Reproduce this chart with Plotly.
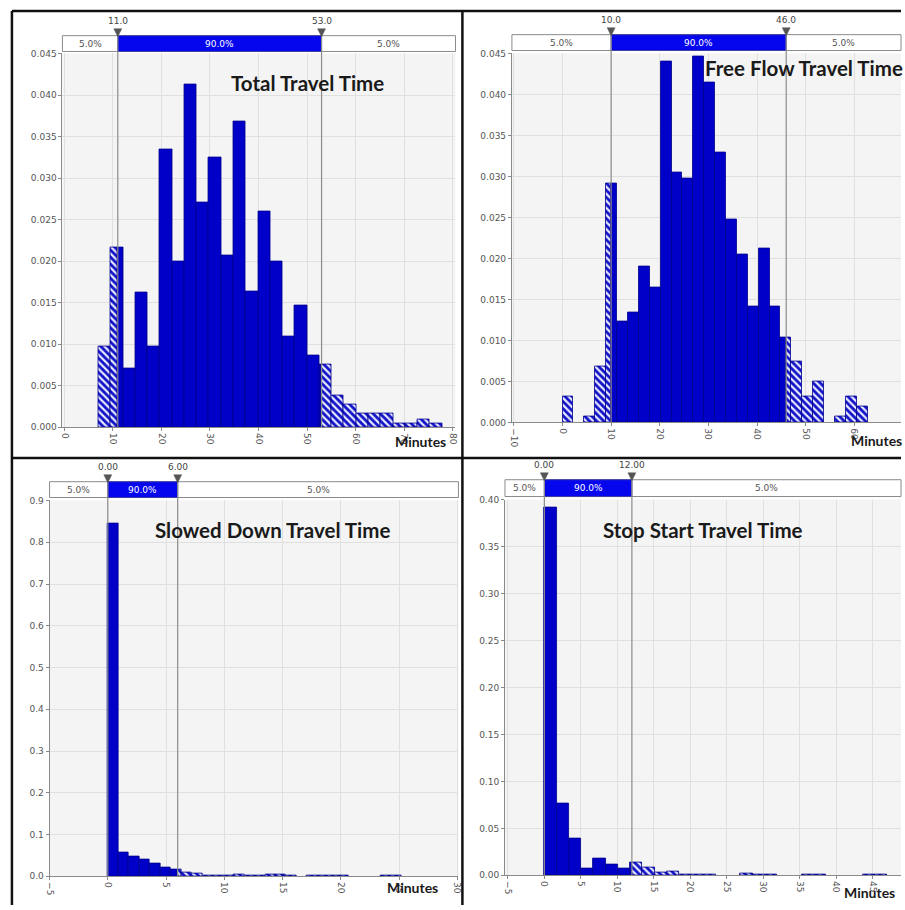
import numpy as np
import plotly.graph_objects as go

W, H = 905, 910

# ---------------- data ----------------
titles = ["Total Travel Time", "Free Flow Travel Time", "Slowed Down Travel Time", "Stop Start Travel Time"]

total_start, total_width = 7.0, 2.53
total_density = [0.0097, 0.0216, 0.0071, 0.0162, 0.0097, 0.0335, 0.0200, 0.0413, 0.0271, 0.0325,
                 0.0207, 0.0368, 0.0163, 0.0260, 0.0200, 0.0109, 0.0147, 0.0087, 0.0076, 0.0038,
                 0.0028, 0.0017, 0.0017, 0.0017, 0.0005, 0.0005, 0.0010, 0.0005]
total_pct = (11.0, 53.0)
total_pct_labels = ("11.0", "53.0")

free_start, free_width = 0.0, 2.24
free_density = [0.0032, 0.0, 0.0007, 0.0068, 0.0291, 0.0123, 0.0134, 0.0190, 0.0165, 0.0440,
                0.0305, 0.0298, 0.0446, 0.0415, 0.0329, 0.0247, 0.0205, 0.0141, 0.0212, 0.0141,
                0.0103, 0.0074, 0.0032, 0.0050, 0.0, 0.0007, 0.0032, 0.0019]
free_pct = (10.0, 46.0)
free_pct_labels = ("10.0", "46.0")

slow_start, slow_width = 0.0, 0.9
slow_density = [0.845, 0.057, 0.047, 0.041, 0.031, 0.020, 0.016, 0.010, 0.006, 0.001,
                0.002, 0.003, 0.004, 0.003, 0.003, 0.004, 0.005, 0.001, 0.0, 0.002,
                0.002, 0.002, 0.001, 0.0, 0.0, 0.0, 0.002, 0.002]
slow_pct = (0.0, 6.0)
slow_pct_labels = ("0.00", "6.00")

stop_start, stop_width = 0.0, 1.68
stop_density = [0.392, 0.0766, 0.0397, 0.0069, 0.018, 0.0114, 0.0069, 0.0138, 0.0086, 0.003,
                0.004, 0.001, 0.001, 0.001, 0.0, 0.0, 0.0015, 0.001, 0.001, 0.0,
                0.0, 0.001, 0.001, 0.0, 0.0, 0.0, 0.001, 0.001]
stop_pct = (0.0, 12.0)
stop_pct_labels = ("0.00", "12.00")

band_labels = ("5.0%", "90.0%", "5.0%")

# ---------------- layout geometry (pixels) ----------------
panels = [
    dict(data=(total_start, total_width, total_density), pct=total_pct, plab=total_pct_labels,
         dom_x=(58, 455), dom_y=(49, 427), xr=(-0.41, 80.6), yr=(0, 0.045), ydt=0.005, yfmt=".3f", xdt=10,
         band=(31, 47), title=dict(x=306, y=79, anchor="center"), minutes=dict(x=420, y=441, anchor="center")),
    dict(data=(free_start, free_width, free_density), pct=free_pct, plab=free_pct_labels,
         dom_x=(512, 905), dom_y=(49, 422), xr=(-10.4, 69.6), yr=(0, 0.045), ydt=0.005, yfmt=".3f", xdt=10,
         band=(30, 46), title=dict(x=705, y=64, anchor="left"), minutes=dict(x=852, y=440, anchor="left")),
    dict(data=(slow_start, slow_width, slow_density), pct=slow_pct, plab=slow_pct_labels,
         dom_x=(45, 458), dom_y=(501, 881), xr=(-5, 30.1), yr=(0, 0.9), ydt=0.1, yfmt=".1f", xdt=5,
         band=(482, 498), title=dict(x=270, y=531, anchor="center"), minutes=dict(x=412, y=892, anchor="center")),
    dict(data=(stop_start, stop_width, stop_density), pct=stop_pct, plab=stop_pct_labels,
         dom_x=(505, 905), dom_y=(500, 880), xr=(-5.4, 48.9), yr=(0, 0.40), ydt=0.05, yfmt=".2f", xdt=5,
         band=(480, 497), title=dict(x=705, y=531, anchor="center"), minutes=dict(x=845, y=897, anchor="left")),
]


def px_x(p):
    return p / W


def px_y(p):
    return 1 - p / H


SOLID = "#0000c8"
EDGE = "#00008b"
BANDBLUE = "#0505ee"
TICKFONT = dict(family="DejaVu Sans", size=9, color="#555555")

fig = go.Figure()
shapes, annotations = [], []
layout_axes = {}

for i, p in enumerate(panels, start=1):
    xa = "x" if i == 1 else f"x{i}"
    ya = "y" if i == 1 else f"y{i}"
    start, width, dens = p["data"]
    lo, hi = p["pct"]

    sx, sw, sy, hx, hw, hy = [], [], [], [], [], []
    for k, v in enumerate(dens):
        if v <= 0:
            continue
        a = start + k * width
        b = a + width
        segs = []
        if a < lo:
            segs.append((a, min(b, lo), True))
        if b > lo and a < hi:
            segs.append((max(a, lo), min(b, hi), False))
        if b > hi:
            segs.append((max(a, hi), b, True))
        for s0, s1, hatched in segs:
            if s1 - s0 <= 1e-9:
                continue
            if hatched:
                hx.append((s0 + s1) / 2); hw.append(s1 - s0); hy.append(v)
            else:
                sx.append((s0 + s1) / 2); sw.append(s1 - s0); sy.append(v)

    fig.add_trace(go.Bar(x=sx, y=sy, width=sw, xaxis=xa, yaxis=ya, showlegend=False,
                         marker=dict(color=SOLID, line=dict(color=EDGE, width=0.8))))
    fig.add_trace(go.Bar(x=hx, y=hy, width=hw, xaxis=xa, yaxis=ya, showlegend=False,
                         marker=dict(color="#1212c8", line=dict(color=EDGE, width=0.8),
                                     pattern=dict(shape="\\", fgcolor="#1212c8", bgcolor="#e8eaff",
                                                  size=5, solidity=0.55, fillmode="replace"))))

    dx = [px_x(p["dom_x"][0]), px_x(p["dom_x"][1])]
    dy = [px_y(p["dom_y"][1]), px_y(p["dom_y"][0])]
    kx = "xaxis" if i == 1 else f"xaxis{i}"
    ky = "yaxis" if i == 1 else f"yaxis{i}"
    layout_axes[kx] = dict(domain=dx, range=list(p["xr"]), anchor=ya, dtick=p["xdt"], tick0=0,
                           tickangle=90, showline=True, linecolor="#8a8a8a", ticks="outside", ticklen=3,
                           tickcolor="#8a8a8a", gridcolor="#e0e0e0", zeroline=False, tickfont=TICKFONT)
    layout_axes[ky] = dict(domain=dy, range=list(p["yr"]), anchor=xa, dtick=p["ydt"], tick0=0,
                           tickformat=p["yfmt"], showline=True, linecolor="#8a8a8a", ticks="outside",
                           ticklen=3, tickcolor="#8a8a8a", gridcolor="#e0e0e0", zeroline=False,
                           tickfont=TICKFONT)

    # percentile band
    b0, b1 = p["band"]
    by0, by1 = px_y(b1), px_y(b0)
    shapes.append(dict(type="rect", xref="paper", yref="paper", x0=dx[0], x1=dx[1], y0=by0, y1=by1,
                       fillcolor="white", line=dict(color="#8a8a8a", width=1), layer="above"))
    shapes.append(dict(type="rect", xref=xa, yref="paper", x0=lo, x1=hi, y0=by0, y1=by1,
                       fillcolor=BANDBLUE, line=dict(color="#4040a0", width=1), layer="above"))
    # percentile lines
    for v in (lo, hi):
        shapes.append(dict(type="line", xref=xa, yref="paper", x0=v, x1=v, y0=dy[0], y1=by1,
                           line=dict(color="#8c8c8c", width=1.2), layer="above"))
    xr0, xr1 = p["xr"]
    bmid = (by0 + by1) / 2
    for txt, xc, col in ((band_labels[0], (xr0 + lo) / 2, "#555555"),
                         (band_labels[1], (lo + hi) / 2, "white"),
                         (band_labels[2], (hi + xr1) / 2, "#555555")):
        annotations.append(dict(text=txt, xref=xa, yref="paper", x=xc, y=bmid, showarrow=False,
                                font=dict(family="DejaVu Sans", size=9, color=col),
                                xanchor="center", yanchor="middle"))
    # percentile markers (small downward triangles) and their labels
    upp = (xr1 - xr0) / (p["dom_x"][1] - p["dom_x"][0])   # data units per pixel
    for v, lab in zip((lo, hi), p["plab"]):
        tx0, tx1 = v - 4 * upp, v + 4 * upp
        ty_top, ty_tip = px_y(b0 - 7), px_y(b0 + 1)
        shapes.append(dict(type="path", xref=xa, yref="paper",
                           path=f"M {tx0},{ty_top} L {tx1},{ty_top} L {v},{ty_tip} Z",
                           fillcolor="#555555", line=dict(color="#555555", width=0.5), layer="above"))
        annotations.append(dict(text=lab, xref=xa, yref="paper", x=v, y=px_y(b0 - 8), showarrow=False,
                                font=dict(family="DejaVu Sans", size=9, color="#444444"),
                                xanchor="center", yanchor="bottom"))

    t = p["title"]
    annotations.append(dict(text=f"<b>{titles[i-1]}</b>", xref="paper", yref="paper",
                            x=px_x(t["x"]), y=px_y(t["y"]), showarrow=False, xanchor=t["anchor"],
                            yanchor="middle", font=dict(family="Lato", size=20.5, color="#1a1a1a")))
    m = p["minutes"]
    annotations.append(dict(text="<b>Minutes</b>", xref="paper", yref="paper",
                            x=px_x(m["x"]), y=px_y(m["y"]), showarrow=False, xanchor=m["anchor"],
                            yanchor="middle", font=dict(family="Lato", size=14, color="#1a1a1a")))

# frame lines
for x0, y0, x1, y1 in ((7, 6, 905, 6), (7, 6, 7, 910), (462, 6, 462, 910), (7, 458, 905, 458)):
    shapes.append(dict(type="line", xref="paper", yref="paper", x0=px_x(x0), x1=px_x(x1),
                       y0=px_y(y0), y1=px_y(y1), line=dict(color="#111111", width=2.5), layer="above"))

fig.update_layout(width=W, height=H, margin=dict(l=0, r=0, t=0, b=0),
                  paper_bgcolor="white", plot_bgcolor="#f4f4f4", bargap=0, barmode="overlay",
                  shapes=shapes, annotations=annotations, **layout_axes)

fig.write_html("out.html", config={"displayModeBar": False},
               post_script="document.body.style.margin='0';document.body.style.overflow='hidden';")
